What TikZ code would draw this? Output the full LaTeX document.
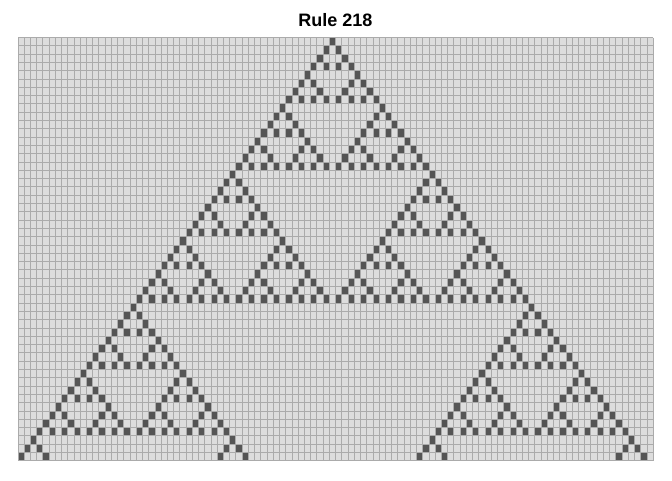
\documentclass[tikz,border=0pt]{standalone}
\usepackage{fontspec}
\setmainfont{Liberation Sans}
\definecolor{cellbg}{HTML}{DDDDDD}
\definecolor{cellon}{HTML}{555555}
\definecolor{gridc}{HTML}{ABABAB}
\tikzset{
  cellfill/.style={fill=cellon},
  gridline/.style={draw=gridc, line width=1pt},
  titlestyle/.style={font=\bfseries\fontsize{18}{20}\selectfont, anchor=base, inner sep=0pt}
}
\begin{document}
\begin{tikzpicture}[x=1pt,y=-1pt]
\useasboundingbox (0,0) rectangle (672,480);
\fill[white] (0,0) rectangle (672,480);
\fill[cellbg] (18,37.5) rectangle (653.3,461);
\foreach \rw in {0,...,50}{
  \foreach \kk in {0,...,\rw}{
    \pgfmathtruncatemacro{\mm}{\rw-\kk}
    \pgfmathtruncatemacro{\bad}{mod(\kk,2)*mod(\mm,2)+mod(floor(\kk/2),2)*mod(floor(\mm/2),2)+mod(floor(\kk/4),2)*mod(floor(\mm/4),2)+mod(floor(\kk/8),2)*mod(floor(\mm/8),2)+mod(floor(\kk/16),2)*mod(floor(\mm/16),2)+mod(floor(\kk/32),2)*mod(floor(\mm/32),2)}
    \ifnum\bad=0
      \pgfmathsetmacro{\xx}{18+(50-\rw+2*\kk)*6.228}
      \pgfmathsetmacro{\yy}{37.5+\rw*8.3}
      \fill[cellfill] (\xx,\yy) rectangle ++(6.228,8.3);
    \fi
  }
}
\foreach \i in {0,...,102}{
  \draw[gridline] ({18+\i*6.228},37.5) -- ({18+\i*6.228},461);
}
\foreach \j in {0,...,51}{
  \draw[gridline] (18,{37.5+\j*8.3}) -- (653.3,{37.5+\j*8.3});
}
\node[titlestyle] (title) at (335.5,26) {Rule 218};
\end{tikzpicture}
\end{document}
